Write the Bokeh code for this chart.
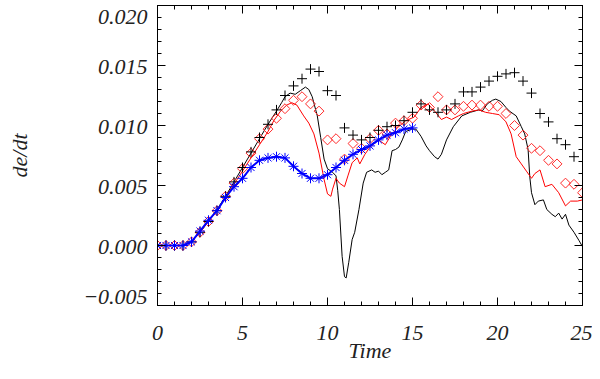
import numpy as np
from bokeh.plotting import figure
from bokeh.models import Range1d, LinearAxis, FixedTicker
from bokeh.embed import file_html
from bokeh.resources import INLINE

# ---------------- data ----------------
# marker series sampled every 0.5 time units
t_plus = [i * 0.5 for i in range(50)]  # 0 .. 24.5
v_plus = [0, 0, 0, 0, 0.0003, 0.0011, 0.0020, 0.0029, 0.0041, 0.0053,
          0.0065, 0.0078, 0.0090, 0.0101, 0.0113, 0.0125, 0.0133, 0.0139, 0.0147, 0.0145,
          0.0129, 0.0125, 0.0098, 0.0092, 0.0088, 0.0090, 0.0096, 0.0099, 0.0100, 0.0104,
          0.0111, 0.0118, 0.0113, 0.0111, 0.0113, 0.0118, 0.0128, 0.0128, 0.0132, 0.0137,
          0.0141, 0.0143, 0.0144, 0.0137, 0.0127, 0.0110, 0.0103, 0.0089, 0.0084, 0.0074]

t_diam = [i * 0.5 for i in range(51)]  # 0 .. 25
v_diam = [0, 0, 0, 0, 0.0003, 0.0011, 0.0020, 0.0029, 0.0041, 0.0052,
          0.0064, 0.0077, 0.0089, 0.0097, 0.0106, 0.0114, 0.0121, 0.0124, 0.0118, 0.0112,
          0.0088, 0.0089, 0.0072, 0.0085, 0.0081, 0.0089, 0.0096, 0.0093, 0.0102, 0.0104,
          0.0106, 0.0117, 0.0115, 0.0124, 0.0113, 0.0113, 0.0116, 0.0117, 0.0117, 0.0116,
          0.0116, 0.0110, 0.0100, 0.0092, 0.0081, 0.0079, 0.0071, 0.0068, 0.0052, 0.0051,
          0.0044]

t_blue = [i * 0.5 for i in range(31)]  # 0 .. 15
v_blue = [0, 0, 0, 0, 0.0003, 0.0012, 0.0021, 0.0029, 0.0040, 0.0049,
          0.0056, 0.0065, 0.0071, 0.0073, 0.0074, 0.0073, 0.0066, 0.0060, 0.0056, 0.0056,
          0.0059, 0.0065, 0.0071, 0.0076, 0.0080, 0.0083, 0.0088, 0.0092, 0.0094, 0.0097,
          0.0098]

t_black = [0, 1.5, 2, 2.5, 3, 3.5, 4, 4.5, 5, 5.5,
           6, 6.5, 7, 7.3, 7.5, 7.8, 8.1, 8.4, 8.7, 8.9,
           9.1, 9.4, 9.6, 9.8, 10.0, 10.3, 10.5, 10.6, 10.7, 10.86,
           11.0, 11.1, 11.25, 11.45, 11.6, 11.85, 12.1, 12.3, 12.6, 12.8,
           13.0, 13.2, 13.4, 13.6, 13.8, 14.0, 14.2, 14.4, 14.6, 14.8,
           14.9, 15.2, 15.5, 15.8, 16.0, 16.3, 16.5, 16.7, 17.0, 17.4,
           17.9, 18.4, 18.9, 19.1, 19.4, 19.7, 19.9, 20.2, 20.5, 20.7,
           21.1, 21.4, 21.6, 21.8, 21.9, 22.0, 22.2, 22.4, 22.7, 22.9,
           23.2, 23.4, 23.6, 23.8, 24.0, 24.2, 24.5, 24.8, 25.0]
v_black = [0, 0, 0.0003, 0.0011, 0.0020, 0.0030, 0.0041, 0.0053, 0.0065, 0.0077,
           0.0089, 0.0101, 0.0112, 0.0119, 0.0124, 0.0127, 0.0126, 0.0129, 0.0132, 0.0130,
           0.0124, 0.0108, 0.0090, 0.0072, 0.0064, 0.0061, 0.0058, 0.0046, 0.0030, -0.0009,
           -0.0026, -0.0027, -0.0014, 0.0005, 0.0011, 0.0030, 0.0052, 0.0061, 0.0063, 0.0061,
           0.0062, 0.0059, 0.0061, 0.0063, 0.0079, 0.0080, 0.0082, 0.0088, 0.0095, 0.0096,
           0.0097, 0.0097, 0.0091, 0.0083, 0.0079, 0.0074, 0.0072, 0.0076, 0.0088, 0.0099,
           0.0108, 0.0111, 0.0113, 0.0112, 0.0118, 0.0121, 0.0122, 0.0120, 0.0115, 0.0112,
           0.0108, 0.0099, 0.0093, 0.0080, 0.0057, 0.0044, 0.0034, 0.0037, 0.0038, 0.0030,
           0.0026, 0.0024, 0.0027, 0.0022, 0.0026, 0.0017, 0.0011, 0.0004, -0.0001]

t_red = [0, 1.5, 2, 2.5, 3, 3.5, 4, 4.5, 5, 5.5,
         6, 6.5, 6.84, 7.24, 7.6, 7.9, 8.2, 8.6, 8.9, 9.2,
         9.5, 9.8, 10.0, 10.2, 10.3, 10.5, 10.7, 11.0, 11.2, 11.45,
         11.75, 11.9, 12.2, 12.5, 13.0, 13.4, 13.7, 14.1, 14.6, 15.1,
         15.5, 15.9, 16.3, 16.7, 17.0, 17.3, 17.7, 18.0, 18.5, 18.9,
         19.3, 19.7, 20.1, 20.5, 20.8, 21.1, 21.4, 21.7, 22.0, 22.2,
         22.5, 22.8, 23.2, 23.6, 24.0, 24.3, 24.7, 25.0]
v_red = [0, 0, 0.0003, 0.0011, 0.0020, 0.0029, 0.0040, 0.0051, 0.0062, 0.0073,
         0.0084, 0.0095, 0.0104, 0.0112, 0.0117, 0.0119, 0.0117, 0.0108, 0.0102, 0.0093,
         0.0077, 0.0055, 0.0043, 0.0041, 0.0047, 0.0056, 0.0052, 0.0049, 0.0058, 0.0069,
         0.0073, 0.0068, 0.0076, 0.0082, 0.0088, 0.0084, 0.0091, 0.0098, 0.0104, 0.0107,
         0.0115, 0.0118, 0.0112, 0.0105, 0.0107, 0.0105, 0.0108, 0.0110, 0.0112, 0.0113,
         0.0111, 0.0110, 0.0109, 0.0103, 0.0093, 0.0074, 0.0068, 0.0062, 0.0056, 0.0060,
         0.0063, 0.0049, 0.0051, 0.0044, 0.0033, 0.0037, 0.0037, 0.0038]

x_ticks = [0, 5, 10, 15, 20, 25]
y_ticks = [-0.005, 0.0, 0.005, 0.010, 0.015, 0.020]
y_tick_texts = ["\u22120.005", "0.000", "0.005", "0.010", "0.015", "0.020"]
x_label = "Time"
y_label = "de/dt"

# ---------------- figure ----------------
FONT = "Liberation Serif"
FS = "22px"
TXT = "#222222"

p = figure(width=592, height=371, output_backend="svg", toolbar_location=None,
           x_range=Range1d(0, 25), y_range=Range1d(-0.005, 0.020),
           min_border_left=157, min_border_right=10, min_border_top=5,
           min_border_bottom=66)
p.grid.visible = False
p.outline_line_color = "black"
p.outline_line_width = 1
p.background_fill_color = "white"
p.border_fill_color = "white"

x_minor = [float(i) for i in range(26)]
y_minor = [round(-0.005 + 0.001 * i, 4) for i in range(26)]

def style_ticks(ax):
    ax.axis_line_color = "black"
    ax.major_tick_line_color = "black"
    ax.minor_tick_line_color = "black"
    ax.major_tick_in = 8
    ax.major_tick_out = 0
    ax.minor_tick_in = 4
    ax.minor_tick_out = 0

def hide_labels(ax, ticks):
    ax.major_label_overrides = {t: "" for t in ticks}
    ax.major_label_standoff = 0
    ax.major_label_text_font_size = FS

# bottom axis: ticks + labels
xb = p.xaxis[0]
xb.ticker = FixedTicker(ticks=x_ticks, minor_ticks=x_minor)
style_ticks(xb)
xb.major_label_text_font = FONT
xb.major_label_text_font_style = "italic"
xb.major_label_text_font_size = FS
xb.major_label_text_color = TXT
xb.major_label_standoff = 20
xb.axis_label = x_label
xb.axis_label_text_font = FONT
xb.axis_label_text_font_style = "italic"
xb.axis_label_text_font_size = FS
xb.axis_label_text_color = TXT
xb.axis_label_standoff = -5

# left axis (inner): ticks only
yl = p.yaxis[0]
yl.ticker = FixedTicker(ticks=y_ticks, minor_ticks=y_minor)
style_ticks(yl)
hide_labels(yl, y_ticks)

# left axis (outer): labels only; end labels kept within the frame height like IDL does
y_label_pos = [-0.00433, -0.00012, 0.00488, 0.00988, 0.01488, 0.01908]
ylab = LinearAxis(ticker=FixedTicker(ticks=y_label_pos, minor_ticks=[]))
ylab.axis_line_color = None
ylab.major_tick_line_color = None
ylab.minor_tick_line_color = None
ylab.major_tick_in = 0
ylab.major_tick_out = 0
ylab.major_label_overrides = dict(zip(y_label_pos, y_tick_texts))
ylab.major_label_text_font = FONT
ylab.major_label_text_font_style = "italic"
ylab.major_label_text_font_size = FS
ylab.major_label_text_color = TXT
ylab.major_label_standoff = 10
ylab.axis_label = y_label
ylab.axis_label_text_font = FONT
ylab.axis_label_text_font_style = "italic"
ylab.axis_label_text_font_size = FS
ylab.axis_label_text_color = TXT
ylab.axis_label_standoff = 48
p.add_layout(ylab, "left")

# top and right axes: ticks only
xt = LinearAxis(ticker=FixedTicker(ticks=x_ticks, minor_ticks=x_minor))
style_ticks(xt)
hide_labels(xt, x_ticks)
p.add_layout(xt, "above")
yr = LinearAxis(ticker=FixedTicker(ticks=y_ticks, minor_ticks=y_minor))
style_ticks(yr)
hide_labels(yr, y_ticks)
p.add_layout(yr, "right")

# ---------------- glyphs ----------------
p.line(t_black, v_black, line_color="black", line_width=1)
p.line(t_red, v_red, line_color="#ff0000", line_width=1)
p.scatter(t_diam, v_diam, marker="square", angle=np.pi / 4, size=7,
          fill_color=None, line_color="#ff2a2a", line_width=1)
p.scatter(t_plus, v_plus, marker="cross", size=10, line_color="black", line_width=1)
p.line(t_blue, v_blue, line_color="#0000ff", line_width=2)
p.scatter(t_blue, v_blue, marker="asterisk", size=10, line_color="#0000ff", line_width=1)

open("out.html", "w").write(file_html(p, INLINE))
